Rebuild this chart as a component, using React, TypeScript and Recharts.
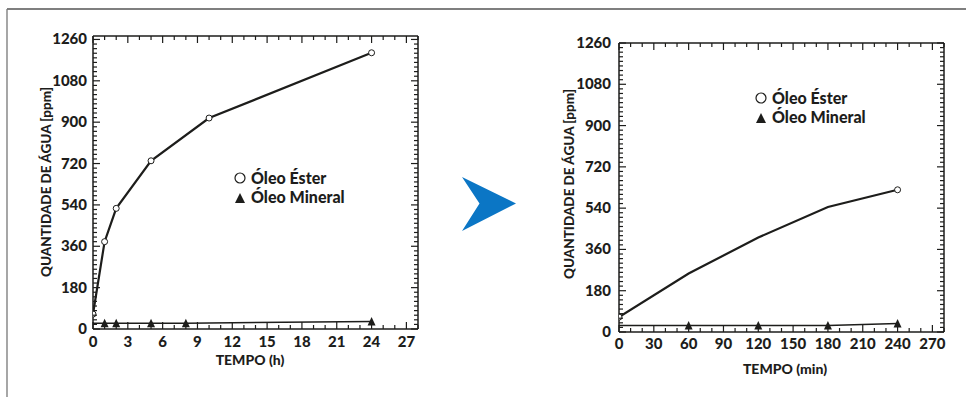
import { LineChart, Line, XAxis, YAxis, Legend } from 'recharts';

// ─── estilo ──────────────────────────────────────────────────────────────────

const FONT = 'Lato, "Open Sans", "DejaVu Sans", sans-serif';
const INK = '#1d1d1b';
const ARROW_BLUE = '#0b76c5';

// ─── dados: absorção em horas ────────────────────────────────────────────────

const hoursEster = [0, 1, 2, 5, 10, 24];
const ppmEsterHours = [65, 380, 525, 732, 918, 1202];
const hoursMineral = [0, 1, 2, 5, 8, 24];
const ppmMineralHours = [25, 25, 25, 25, 25, 33];

// ─── dados: absorção em minutos ──────────────────────────────────────────────

const minutesEster = [0, 60, 120, 180, 240];
const ppmEsterMinutes = [65, 255, 412, 545, 620];
const minutesMineral = [0, 60, 120, 180, 240];
const ppmMineralMinutes = [28, 28, 28, 28, 37];

// ─── eixos ───────────────────────────────────────────────────────────────────

const hourTicks = [0, 3, 6, 9, 12, 15, 18, 21, 24, 27];
const minuteTicks = [0, 30, 60, 90, 120, 150, 180, 210, 240, 270];
const ppmTicks = [0, 180, 360, 540, 720, 900, 1080, 1260];

type Pt = { t: number; v: number };
const zip = (ts: number[], vs: number[]): Pt[] => ts.map((t, i) => ({ t, v: vs[i] }));

// marcas menores (sem rótulo) entre as principais
const minorSteps = (max: number, step: number): number[] => {
  const out: number[] = [];
  for (let v = 0; v <= max + 1e-9; v += step) out.push(Math.round(v * 100) / 100);
  return out;
};

const textProps = { fontFamily: FONT, fontWeight: 900, fill: INK } as const;

// tamanhos das áreas dos eixos (o CartesianAxis não desenha nada com 0)
const AX_BOTTOM = 30;
const AX_TOP = 10;
const AX_LEFT = 40;
const AX_RIGHT = 10;

// ─── marcas para dentro (estilo gráfico técnico) ─────────────────────────────

function bottomTick(majors: number[], labelDy: number) {
  return (props: any) => {
    const { x, y, payload } = props;
    const major = majors.includes(payload.value);
    return (
      <g>
        <line x1={x} x2={x} y1={y} y2={y - (major ? 7 : 4)} stroke={INK} strokeWidth={1.2} />
        {major && (
          <text x={x} y={y + labelDy} textAnchor="middle" fontSize={15} {...textProps}>
            {payload.value}
          </text>
        )}
      </g>
    );
  };
}

function topTick(majors: number[]) {
  return (props: any) => {
    const { x, y, payload } = props;
    const major = majors.includes(payload.value);
    return <line x1={x} x2={x} y1={y} y2={y + (major ? 7 : 4)} stroke={INK} strokeWidth={1.2} />;
  };
}

function leftTick(majors: number[], labelDx: number) {
  return (props: any) => {
    const { x, y, payload } = props;
    const major = majors.includes(payload.value);
    return (
      <g>
        <line x1={x} x2={x + (major ? 7 : 4)} y1={y} y2={y} stroke={INK} strokeWidth={1.2} />
        {major && (
          <text x={x - labelDx} y={y + 5} textAnchor="end" fontSize={15} {...textProps}>
            {payload.value}
          </text>
        )}
      </g>
    );
  };
}

function rightTick(majors: number[]) {
  return (props: any) => {
    const { x, y, payload } = props;
    const major = majors.includes(payload.value);
    return <line x1={x} x2={x - (major ? 7 : 4)} y1={y} y2={y} stroke={INK} strokeWidth={1.2} />;
  };
}

// ─── marcadores ──────────────────────────────────────────────────────────────

function circleDot(visible: (i: number) => boolean) {
  return (props: any) => {
    const { cx, cy, index } = props;
    if (!visible(index)) return <g key={`c-${index}`} />;
    return <circle key={`c-${index}`} cx={cx} cy={cy} r={3} fill="#fff" stroke={INK} strokeWidth={1} />;
  };
}

function triangleDot(props: any) {
  const { cx, cy, index } = props;
  if (index === 0) return <g key={`t-${index}`} />;
  return <path key={`t-${index}`} d={`M${cx - 4},${cy + 4} L${cx},${cy - 4.5} L${cx + 4},${cy + 4} Z`} fill={INK} />;
}

// ─── legenda ─────────────────────────────────────────────────────────────────

function OilLegend() {
  return (
    <svg width={160} height={44} style={{ display: 'block', overflow: 'visible' }}>
      <circle cx={7} cy={12} r={5} fill="#fff" stroke={INK} strokeWidth={1.2} />
      <text x={18} y={18} fontSize={16} {...textProps}>Óleo Éster</text>
      <path d="M2,37 L7,27 L12,37 Z" fill={INK} />
      <text x={18} y={37} fontSize={16} {...textProps}>Óleo Mineral</text>
    </svg>
  );
}

// ─── painel ──────────────────────────────────────────────────────────────────

interface PanelProps {
  left: number;
  width: number;
  // bordas da área de plotagem dentro do painel
  plot: { top: number; right: number; bottom: number; left: number };
  xMax: number;
  xMinor: number;
  xMajors: number[];
  yMax: number;
  xTitle: string;
  xLabelDy: number;
  xTitleAt: { x: number; y: number };
  yTitleAt: { x: number; y: number };
  yLabelDx: number;
  ester: Pt[];
  mineral: Pt[];
  esterDotVisible: (i: number) => boolean;
  legendAt: { left: number; top: number };
}

function Panel(p: PanelProps) {
  const xAll = minorSteps(p.xMax, p.xMinor);
  const yAll = minorSteps(Math.min(p.yMax, 1260), 20);
  const margin = {
    top: p.plot.top - AX_TOP,
    right: p.plot.right - AX_RIGHT,
    bottom: p.plot.bottom - AX_BOTTOM,
    left: p.plot.left - AX_LEFT,
  };

  return (
    <div style={{ position: 'absolute', left: p.left, top: 0 }}>
      <LineChart width={p.width} height={397} margin={margin}>
        <XAxis
          dataKey="t"
          type="number"
          domain={[0, p.xMax]}
          allowDataOverflow
          ticks={xAll}
          interval={0}
          height={AX_BOTTOM}
          tickSize={0}
          tickMargin={0}
          tickLine={false}
          axisLine={{ stroke: INK, strokeWidth: 1.5 }}
          tick={bottomTick(p.xMajors, p.xLabelDy)}
          label={{
            content: () => (
              <text x={p.xTitleAt.x} y={p.xTitleAt.y} textAnchor="middle" fontSize={14} {...textProps}>
                {p.xTitle}
              </text>
            ),
          }}
        />
        <XAxis
          xAxisId="top"
          orientation="top"
          dataKey="t"
          type="number"
          domain={[0, p.xMax]}
          allowDataOverflow
          ticks={xAll}
          interval={0}
          height={AX_TOP}
          tickSize={0}
          tickMargin={0}
          tickLine={false}
          axisLine={{ stroke: INK, strokeWidth: 1.5 }}
          tick={topTick(p.xMajors)}
        />
        <YAxis
          type="number"
          domain={[0, p.yMax]}
          allowDataOverflow
          ticks={yAll}
          interval={0}
          width={AX_LEFT}
          tickSize={0}
          tickMargin={0}
          tickLine={false}
          axisLine={{ stroke: INK, strokeWidth: 1.5 }}
          tick={leftTick(ppmTicks, p.yLabelDx)}
          label={{
            content: () => {
              const { x, y } = p.yTitleAt;
              return (
                <text x={x} y={y} transform={`rotate(-90, ${x}, ${y})`} textAnchor="middle" fontSize={13.5} {...textProps}>
                  QUANTIDADE DE ÁGUA [ppm]
                </text>
              );
            },
          }}
        />
        <YAxis
          yAxisId="right"
          orientation="right"
          type="number"
          domain={[0, p.yMax]}
          allowDataOverflow
          ticks={yAll}
          interval={0}
          width={AX_RIGHT}
          tickSize={0}
          tickMargin={0}
          tickLine={false}
          axisLine={{ stroke: INK, strokeWidth: 1.5 }}
          tick={rightTick(ppmTicks)}
        />
        <Line
          data={p.mineral}
          dataKey="v"
          name="Óleo Mineral"
          type="linear"
          stroke={INK}
          strokeWidth={1.5}
          dot={triangleDot}
          activeDot={false}
          isAnimationActive={false}
        />
        <Line
          data={p.ester}
          dataKey="v"
          name="Óleo Éster"
          type="linear"
          stroke={INK}
          strokeWidth={2.2}
          dot={circleDot(p.esterDotVisible)}
          activeDot={false}
          isAnimationActive={false}
        />
        <Legend
          layout="horizontal"
          verticalAlign="middle"
          align="center"
          content={() => <OilLegend />}
          wrapperStyle={{ left: p.legendAt.left, top: p.legendAt.top, width: 160, height: 44 }}
        />
      </LineChart>
    </div>
  );
}

export default function App() {
  const esterHours = zip(hoursEster, ppmEsterHours);
  const mineralHours = zip(hoursMineral, ppmMineralHours);
  const esterMinutes = zip(minutesEster, ppmEsterMinutes);
  const mineralMinutes = zip(minutesMineral, ppmMineralMinutes);

  return (
    <div style={{ position: 'absolute', left: 0, top: 0, width: 966, height: 397, background: '#fff', overflow: 'hidden' }}>
      {/* moldura e seta */}
      <svg width={966} height={397} style={{ position: 'absolute', left: 0, top: 0 }}>
        <line x1={7} y1={9} x2={966} y2={9} stroke="#555" strokeWidth={1.3} />
        <line x1={7} y1={9} x2={7} y2={397} stroke="#777" strokeWidth={1.3} />
        <polygon points="462,177 516,203.5 462,231 479.5,203.5" fill={ARROW_BLUE} />
      </svg>

      <Panel
        left={0}
        width={440}
        plot={{ top: 36, right: 22, bottom: 68, left: 93 }}
        xMax={28}
        xMinor={1}
        xMajors={hourTicks}
        yMax={1275}
        xTitle="TEMPO (h)"
        xLabelDy={18}
        xTitleAt={{ x: 250, y: 365 }}
        yTitleAt={{ x: 51, y: 182 }}
        yLabelDx={6}
        ester={esterHours}
        mineral={mineralHours}
        esterDotVisible={() => true}
        legendAt={{ left: 233, top: 166 }}
      />

      <Panel
        left={540}
        width={426}
        plot={{ top: 43, right: 22, bottom: 65, left: 79 }}
        xMax={280}
        xMinor={10}
        xMajors={minuteTicks}
        yMax={1260}
        xTitle="TEMPO (min)"
        xLabelDy={17}
        xTitleAt={{ x: 245, y: 374 }}
        yTitleAt={{ x: 34, y: 184 }}
        yLabelDx={8}
        ester={esterMinutes}
        mineral={mineralMinutes}
        esterDotVisible={(i) => i === 0 || i === minutesEster.length - 1}
        legendAt={{ left: 214, top: 86 }}
      />
    </div>
  );
}
